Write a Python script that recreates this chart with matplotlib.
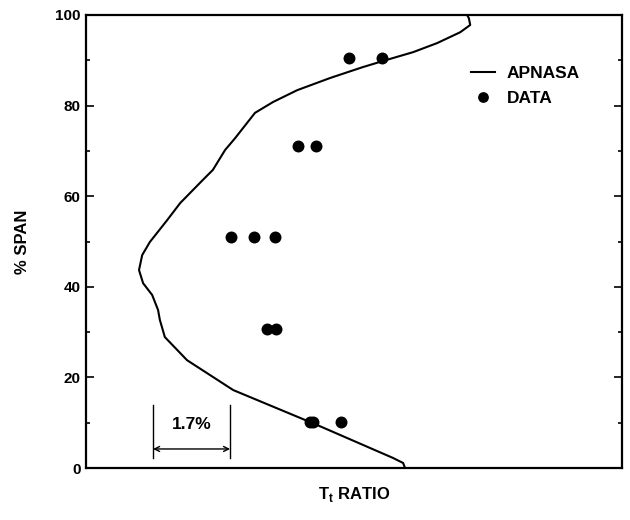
import matplotlib
matplotlib.use("Agg")
import matplotlib.pyplot as plt
from matplotlib.ticker import MultipleLocator

plt.rcParams['font.family'] = ['Liberation Sans', 'DejaVu Sans']
plt.rcParams['font.weight'] = 'bold'
plt.rcParams['mathtext.fontset'] = 'custom'
plt.rcParams['mathtext.rm'] = 'Liberation Sans:bold'

# APNASA prediction (x: relative T_t ratio in %, y: % span)
apnasa_x = [7.04, 7.00, 6.78, 5.10, 3.25, 2.23, 1.74, 1.63, 1.59, 1.46, 1.26, 1.17, 1.24,
            1.41, 1.79, 2.08, 2.58, 2.80, 3.07, 3.29, 3.73, 4.13, 4.66, 5.39, 6.11,
            6.64, 7.22, 7.75, 8.26, 8.48, 8.45, 8.41]
apnasa_y = [0.0, 1.1, 2.2, 9.5, 17.2, 23.8, 28.9, 32.7, 34.9, 38.2, 40.8, 43.7, 47.0,
            49.9, 54.7, 58.5, 63.6, 65.8, 70.2, 72.8, 78.4, 80.8, 83.4, 86.1, 88.5,
            90.1, 91.8, 93.8, 96.2, 97.8, 99.3, 100.0]

# Measured data
data_x = [5.81, 6.53, 4.68, 5.08, 3.20, 3.71, 4.17, 4.00, 4.19, 4.94, 5.01, 5.63]
data_y = [90.5, 90.5, 71.1, 71.1, 51.0, 51.0, 51.0, 30.7, 30.7, 10.2, 10.2, 10.2]

# Scale bar
bar_start = 1.48
bar_width = 1.7
bar_label = "1.7%"

fig = plt.figure(figsize=(6.3, 5.2), dpi=100)
ax = fig.add_axes([86/630, 52/520, 536/630, 453/520])

ax.plot(apnasa_x, apnasa_y, color='black', lw=1.5, label='APNASA')
ax.plot(data_x, data_y, 'o', color='black', ms=8.6, mec='none', label='DATA')

ax.set_xlim(0, 11.83)
ax.set_ylim(0, 100)
ax.yaxis.set_major_locator(MultipleLocator(20))
ax.yaxis.set_minor_locator(MultipleLocator(10))
ax.set_xticks([])
ax.tick_params(axis='y', which='both', direction='in', right=True, labelsize=11, pad=4, width=1.2)
ax.tick_params(axis='y', which='major', length=6)
ax.tick_params(axis='y', which='minor', length=3)
for s in ax.spines.values():
    s.set_linewidth(1.6)

ax.set_ylabel('% SPAN', fontsize=12, fontweight='bold', labelpad=18)
ax.set_xlabel(r'T$_\mathregular{t}$ RATIO', fontsize=12, fontweight='bold', labelpad=12)

# scale bar
ax.plot([bar_start, bar_start], [2.2, 13.9], color='black', lw=1.0)
ax.plot([bar_start + bar_width, bar_start + bar_width], [2.2, 13.9], color='black', lw=1.0)
ax.annotate('', xy=(bar_start, 4.2), xytext=(bar_start + bar_width, 4.2),
            arrowprops=dict(arrowstyle='<->', color='black', lw=1.0,
                            mutation_scale=9, shrinkA=0, shrinkB=0))
ax.text(bar_start + bar_width / 2, 9.5, bar_label, ha='center', va='center',
        fontsize=12.5, fontweight='bold')

ax.legend(loc='upper left', bbox_to_anchor=(0.718, 0.887), frameon=False,
          fontsize=12.5, handlelength=1.4, handletextpad=0.65, borderpad=0,
          borderaxespad=0, labelspacing=0.53, markerscale=0.9)

fig.savefig('out.png', dpi=100)
